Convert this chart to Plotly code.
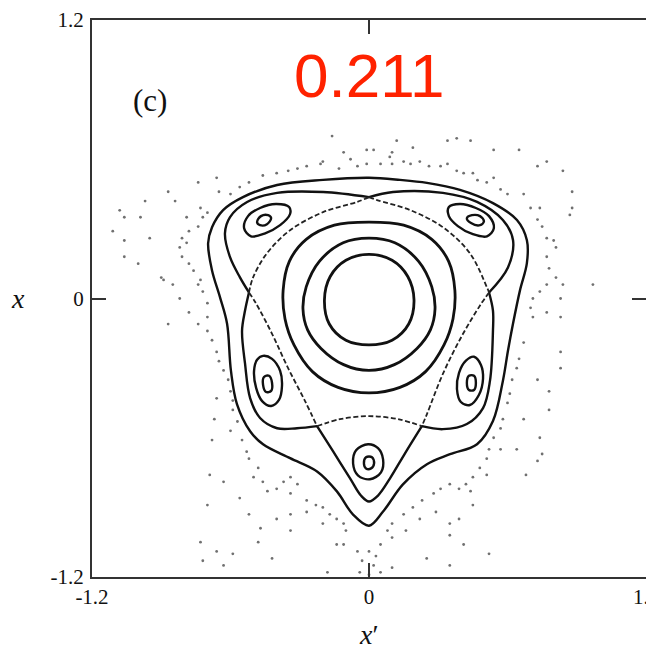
import plotly.graph_objects as go

# ---------------- data (x' , x) ----------------
# outermost closed invariant curve
OUTER_X = [0.000, 0.134, 0.251, 0.394, 0.537, 0.641, 0.684, 0.684, 0.654, 0.624, 0.602, 0.580,
           0.537, 0.468, 0.351, 0.251, 0.147, 0.061, 0.000, -0.069, -0.139, -0.225, -0.342,
           -0.459, -0.515, -0.572, -0.598, -0.615, -0.645, -0.680, -0.697, -0.680, -0.632,
           -0.546, -0.398, -0.199, 0.000]
OUTER_Y = [0.520, 0.511, 0.498, 0.468, 0.411, 0.338, 0.251, 0.152, 0.035, -0.108, -0.225, -0.355,
           -0.528, -0.628, -0.671, -0.714, -0.801, -0.918, -0.979, -0.931, -0.831, -0.745, -0.688,
           -0.628, -0.572, -0.455, -0.312, -0.108, 0.004, 0.121, 0.238, 0.307, 0.381,
           0.437, 0.489, 0.511, 0.520]

# outer separatrix arcs (solid)
ARC_TL_X = [0.000, -0.199, -0.398, -0.528, -0.602, -0.624, -0.602, -0.559, -0.520]
ARC_TL_Y = [0.437, 0.459, 0.455, 0.416, 0.351, 0.281, 0.178, 0.091, 0.026]
ARC_TR_X = [0.000, 0.104, 0.320, 0.468, 0.580, 0.624, 0.602, 0.520]
ARC_TR_Y = [0.437, 0.459, 0.455, 0.416, 0.338, 0.251, 0.134, 0.026]
ARC_L_X = [-0.520, -0.537, -0.550, -0.537, -0.515, -0.472, -0.398, -0.312, -0.225]
ARC_L_Y = [0.026, -0.052, -0.139, -0.281, -0.429, -0.515, -0.559, -0.559, -0.550]
ARC_R_X = [0.520, 0.537, 0.537, 0.524, 0.494, 0.424, 0.320, 0.229]
ARC_R_Y = [0.026, -0.052, -0.139, -0.355, -0.472, -0.541, -0.563, -0.550]
ARC_B_X = [-0.225, -0.156, -0.082, -0.035, 0.000, 0.039, 0.091, 0.156, 0.229]
ARC_B_Y = [-0.550, -0.658, -0.775, -0.849, -0.875, -0.849, -0.775, -0.667, -0.550]

# inner separatrix arcs (dashed)
DASH_UL_X = [0.000, -0.052, -0.199, -0.342, -0.442, -0.502, -0.520]
DASH_UL_Y = [0.437, 0.416, 0.372, 0.294, 0.195, 0.091, 0.026]
DASH_UR_X = [0.000, 0.035, 0.178, 0.320, 0.437, 0.511, 0.520]
DASH_UR_Y = [0.437, 0.424, 0.381, 0.307, 0.195, 0.048, 0.026]
DASH_LL_X = [-0.520, -0.489, -0.420, -0.351, -0.277, -0.225]
DASH_LL_Y = [0.026, -0.022, -0.152, -0.299, -0.442, -0.550]
DASH_LR_X = [0.520, 0.481, 0.403, 0.320, 0.251, 0.229]
DASH_LR_Y = [0.026, -0.030, -0.160, -0.325, -0.498, -0.550]
DASH_B_X = [-0.225, -0.126, 0.000, 0.126, 0.229]
DASH_B_Y = [-0.550, -0.520, -0.507, -0.520, -0.550]

# central invariant rings
RING1_X = [0.000, 0.100, 0.168, 0.195, 0.172, 0.100, 0.000, -0.100, -0.172, -0.193, -0.168, -0.100]
RING1_Y = [0.190, 0.165, 0.095, -0.005, -0.110, -0.180, -0.200, -0.180, -0.110, -0.005, 0.095, 0.165]
RING2_X = [0.000, 0.112, 0.215, 0.272, 0.286, 0.266, 0.208, 0.110, 0.000, -0.110, -0.208, -0.266,
           -0.286, -0.272, -0.215, -0.112]
RING2_Y = [0.260, 0.240, 0.160, 0.050, -0.045, -0.135, -0.215, -0.285, -0.310, -0.285, -0.215, -0.135,
           -0.045, 0.050, 0.160, 0.240]
RING3_X = [0.000, 0.150, 0.272, 0.345, 0.372, 0.364, 0.325, 0.245, 0.134, 0.000, -0.134, -0.245,
           -0.325, -0.364, -0.372, -0.345, -0.272, -0.150]
RING3_Y = [0.329, 0.316, 0.255, 0.160, 0.035, -0.087, -0.200, -0.315, -0.383, -0.407, -0.383, -0.315,
           -0.200, -0.087, 0.035, 0.160, 0.255, 0.316]

# island chain (outer and inner loops)
ISL_TL_X = [-0.541, -0.524, -0.472, -0.403, -0.346, -0.342, -0.385, -0.450, -0.511]
ISL_TL_Y = [0.303, 0.355, 0.390, 0.407, 0.394, 0.364, 0.316, 0.281, 0.268]
ISL_TL_IN_X = [-0.485, -0.468, -0.437, -0.424, -0.442, -0.472]
ISL_TL_IN_Y = [0.329, 0.355, 0.359, 0.346, 0.320, 0.316]
ISL_TR_X = [0.346, 0.394, 0.463, 0.520, 0.541, 0.511, 0.450, 0.385, 0.346]
ISL_TR_Y = [0.394, 0.407, 0.390, 0.355, 0.303, 0.268, 0.277, 0.312, 0.355]
ISL_TR_IN_X = [0.424, 0.446, 0.481, 0.498, 0.481, 0.442]
ISL_TR_IN_Y = [0.346, 0.359, 0.355, 0.333, 0.316, 0.325]
ISL_L_X = [-0.459, -0.420, -0.385, -0.377, -0.390, -0.424, -0.463, -0.489, -0.498, -0.485]
ISL_L_Y = [-0.247, -0.260, -0.312, -0.377, -0.437, -0.463, -0.442, -0.385, -0.312, -0.264]
ISL_L_IN_X = [-0.455, -0.433, -0.420, -0.424, -0.446, -0.459]
ISL_L_IN_Y = [-0.338, -0.333, -0.364, -0.398, -0.403, -0.372]
ISL_R_X = [0.455, 0.485, 0.494, 0.476, 0.437, 0.398, 0.381, 0.390, 0.420]
ISL_R_Y = [-0.251, -0.286, -0.346, -0.416, -0.459, -0.446, -0.390, -0.320, -0.268]
ISL_R_IN_X = [0.433, 0.455, 0.463, 0.455, 0.433, 0.424]
ISL_R_IN_Y = [-0.333, -0.333, -0.364, -0.394, -0.394, -0.364]
ISL_B_X = [-0.004, 0.039, 0.061, 0.052, 0.004, -0.048, -0.069, -0.056]
ISL_B_Y = [-0.628, -0.645, -0.693, -0.749, -0.779, -0.762, -0.710, -0.654]
ISL_B_IN_X = [-0.013, 0.013, 0.022, 0.009, -0.013, -0.022]
ISL_B_IN_Y = [-0.684, -0.684, -0.710, -0.732, -0.732, -0.710]

# chaotic-sea points
SEA_X = [-0.16, -0.11, -0.20, -0.27, -0.31, -0.35, -0.40, -0.46, -0.52, -0.56, -0.60, -0.65, -0.66,
         -0.74, -0.87, -0.97, -0.84, -0.79, -0.73, -0.70, -0.72, -0.74, -0.78, -0.81, -0.79, -0.82,
         -0.81, -0.78, -0.76, -0.74, -0.72, -0.70, -0.73, -0.90, -0.89, -0.85, -0.82, -0.78, -0.74,
         -0.70, -0.87, -1.06, -1.00, -0.95, -1.06, -1.11, -1.08, -1.06, -0.99,
         -0.01, 0.02, 0.12, 0.19, 0.10, 0.09, 0.15, -0.01, 0.05, 0.10, 0.18, 0.22, 0.26, 0.31, 0.34,
         0.38, 0.41, 0.45, 0.47, 0.51, 0.54, 0.57, 0.60, 0.67, 0.70, 0.74, 0.73, 0.75, 0.77, 0.80,
         0.81, 0.77, 0.78, 0.81, 0.77, 0.74, 0.71, 0.70, 0.71, 0.77, 0.83, 0.83, 0.84, 0.88, 0.87,
         0.84, 0.77, 0.73, 0.65, 0.54, 0.44, 0.38, 0.34, 0.97, 0.88,
         -0.70, -0.68, -0.66, -0.65, -0.63, -0.61, -0.66, -0.60, -0.59, -0.59, -0.57, -0.67, -0.60,
         -0.55, -0.53, -0.52, -0.48, -0.50, -0.46, -0.44, -0.40, -0.37, -0.34, -0.31, -0.34, -0.27,
         -0.23, -0.20, -0.17, -0.14, -0.11, -0.20, -0.27, -0.34, -0.40, -0.47, -0.48, -0.42, -0.34,
         -0.52, -0.56, -0.63, -0.68, -0.69, -0.70, -0.73, -0.72, -0.66, -0.63, -0.59, -0.18, -0.11,
         -0.05, -0.03, -0.10, -0.14,
         0.67, 0.65, 0.64, 0.62, 0.61, 0.60, 0.58, 0.57, 0.54, 0.52, 0.51, 0.48, 0.45, 0.42, 0.39,
         0.35, 0.31, 0.28, 0.23, 0.19, 0.15, 0.10, 0.08, 0.05, 0.00, 0.02, 0.05, -0.04, 0.10, 0.16,
         0.22, 0.29, 0.35, 0.35, 0.39, 0.44, 0.45, 0.51, 0.57, 0.64, 0.68, 0.73, 0.75, 0.78, 0.78,
         0.83, 0.83, 0.73, 0.67, 0.74, 0.25, 0.35, 0.41, 0.52, 0.10,
         -0.08, -0.05, -0.13, -0.21, 0.00, 0.03]
SEA_Y = [0.70, 0.63, 0.59, 0.57, 0.56, 0.55, 0.54, 0.53, 0.50, 0.48, 0.45, 0.46, 0.52,
         0.50, 0.46, 0.42, 0.42, 0.35, 0.39, 0.37, 0.35, 0.31, 0.29, 0.26, 0.24, 0.22,
         0.18, 0.15, 0.12, 0.06, 0.03, -0.02, 0.08, 0.09, 0.08, 0.06, 0.00, -0.06, -0.11,
         -0.08, -0.11, 0.18, 0.15, 0.26, 0.25, 0.29, 0.38, 0.35, 0.35,
         0.64, 0.64, 0.68, 0.65, 0.63, 0.61, 0.59, 0.58, 0.58, 0.58, 0.58, 0.59, 0.57, 0.57, 0.58,
         0.55, 0.54, 0.54, 0.51, 0.50, 0.52, 0.47, 0.45, 0.45, 0.39, 0.39, 0.34, 0.31, 0.26, 0.25,
         0.22, 0.18, 0.13, 0.09, 0.06, 0.03, 0.00, -0.04, -0.08, -0.06, -0.08, 0.00, 0.06, 0.46, 0.36,
         0.55, 0.59, 0.57, 0.64, 0.64, 0.68, 0.69, 0.68, 0.06, 0.39,
         -0.14, -0.18, -0.23, -0.27, -0.31, -0.35, -0.43, -0.40, -0.44, -0.48, -0.53, -0.52, -0.57,
         -0.61, -0.66, -0.69, -0.73, -0.77, -0.79, -0.83, -0.82, -0.79, -0.77, -0.80, -0.84, -0.87,
         -0.89, -0.90, -0.93, -0.95, -0.97, -0.97, -0.92, -0.93, -0.95, -0.99, -1.05, -1.12, -1.00,
         -0.93, -0.86, -0.79, -0.61, -0.76, -0.89, -1.05, -1.13, -1.09, -1.15, -1.10, -1.18, -1.06,
         -1.09, -1.13, -1.00, -1.06,
         -0.19, -0.26, -0.30, -0.35, -0.41, -0.45, -0.52, -0.56, -0.60, -0.65, -0.69, -0.73, -0.77,
         -0.80, -0.82, -0.80, -0.82, -0.84, -0.87, -0.90, -0.93, -0.97, -1.00, -1.06, -1.09, -1.15,
         -1.18, -1.18, -1.03, -1.00, -0.95, -0.92, -0.97, -1.02, -0.95, -0.83, -0.89, -0.76, -0.65,
         -0.65, -0.76, -0.70, -0.67, -0.48, -0.40, -0.30, -0.23, -0.35, -0.52, -0.60, -1.12, -1.15,
         -1.06, -1.10, -1.16,
         0.60, 0.57, 0.56, 0.58, -1.19, -1.11]

TICK_VALS = [-1.2, 0, 1.2]
TICK_TEXT = ["-1.2", "0", "1.2"]
PANEL_LABEL = "(c)"
VALUE_LABEL = "0.211"

# ---------------- figure ----------------
fig = go.Figure()

SOLID = dict(color="#111111", width=2.4, shape="spline", smoothing=1.0)
DASHED = dict(color="#222222", width=1.8, dash="5px,2.5px", shape="spline", smoothing=1.0)


def closed(xs, ys):
    return list(xs) + [xs[0]], list(ys) + [ys[0]]


def add_line(xs, ys, style, close=False):
    if close:
        xs, ys = closed(xs, ys)
    fig.add_trace(go.Scatter(x=xs, y=ys, mode="lines", line=style,
                             hoverinfo="skip", showlegend=False))


# chaotic sea
fig.add_trace(go.Scatter(x=SEA_X, y=SEA_Y, mode="markers",
                         marker=dict(size=2.8, color="#707070", line=dict(width=0)),
                         hoverinfo="skip", showlegend=False))

add_line(OUTER_X, OUTER_Y, SOLID)
for ax_, ay_ in [(ARC_TL_X, ARC_TL_Y), (ARC_TR_X, ARC_TR_Y), (ARC_L_X, ARC_L_Y),
                 (ARC_R_X, ARC_R_Y), (ARC_B_X, ARC_B_Y)]:
    add_line(ax_, ay_, SOLID)
for dx_, dy_ in [(DASH_UL_X, DASH_UL_Y), (DASH_UR_X, DASH_UR_Y), (DASH_LL_X, DASH_LL_Y),
                 (DASH_LR_X, DASH_LR_Y), (DASH_B_X, DASH_B_Y)]:
    add_line(dx_, dy_, DASHED)
for rx_, ry_ in [(RING1_X, RING1_Y), (RING2_X, RING2_Y), (RING3_X, RING3_Y)]:
    add_line(rx_, ry_, dict(SOLID, width=2.8), close=True)
for ix_, iy_ in [(ISL_TL_X, ISL_TL_Y), (ISL_TL_IN_X, ISL_TL_IN_Y), (ISL_TR_X, ISL_TR_Y),
                 (ISL_TR_IN_X, ISL_TR_IN_Y), (ISL_L_X, ISL_L_Y), (ISL_L_IN_X, ISL_L_IN_Y),
                 (ISL_R_X, ISL_R_Y), (ISL_R_IN_X, ISL_R_IN_Y), (ISL_B_X, ISL_B_Y),
                 (ISL_B_IN_X, ISL_B_IN_Y)]:
    add_line(ix_, iy_, SOLID, close=True)

SERIF = "Liberation Serif, Times New Roman, serif"
axis_common = dict(range=[-1.2, 1.2], tickvals=TICK_VALS, ticktext=TICK_TEXT,
                   ticks="inside", ticklen=14, tickwidth=1.5, tickcolor="#333333",
                   showline=True, linecolor="#333333", linewidth=2, mirror="ticks",
                   showgrid=False, zeroline=False, automargin=False,
                   ticklabeloverflow="allow",
                   tickfont=dict(family=SERIF, size=21, color="#111111"))

# the page body has an 8px default margin, so the figure is sized to fit
fig.update_layout(
    width=646, height=641,
    margin=dict(l=84, r=8, t=12, b=72, autoexpand=False),
    paper_bgcolor="white", plot_bgcolor="white",
    xaxis=dict(axis_common, ticklabelstandoff=0),
    yaxis=dict(axis_common, ticklabelstandoff=2),
    annotations=[
        dict(text="<i>x</i>′", xref="paper", yref="paper", x=0.5, y=-0.104,
             xanchor="center", yanchor="middle",
             showarrow=False, font=dict(family=SERIF, size=28, color="#111111")),
        dict(text="<i>x</i>", xref="paper", yref="paper", x=-0.134, y=0.5,
             xanchor="center", yanchor="middle",
             showarrow=False, font=dict(family=SERIF, size=28, color="#111111")),
        dict(text=PANEL_LABEL, xref="paper", yref="paper", x=0.105, y=0.855,
             xanchor="center", yanchor="middle",
             showarrow=False, font=dict(family=SERIF, size=31, color="#111111")),
        dict(text=VALUE_LABEL, xref="paper", yref="paper", x=0.5, y=0.901,
             xanchor="center", yanchor="middle",
             showarrow=False, font=dict(family="Liberation Sans, Arial, sans-serif",
                                        size=62, color="#ff2200")),
    ],
)

fig.write_html("out.html")
